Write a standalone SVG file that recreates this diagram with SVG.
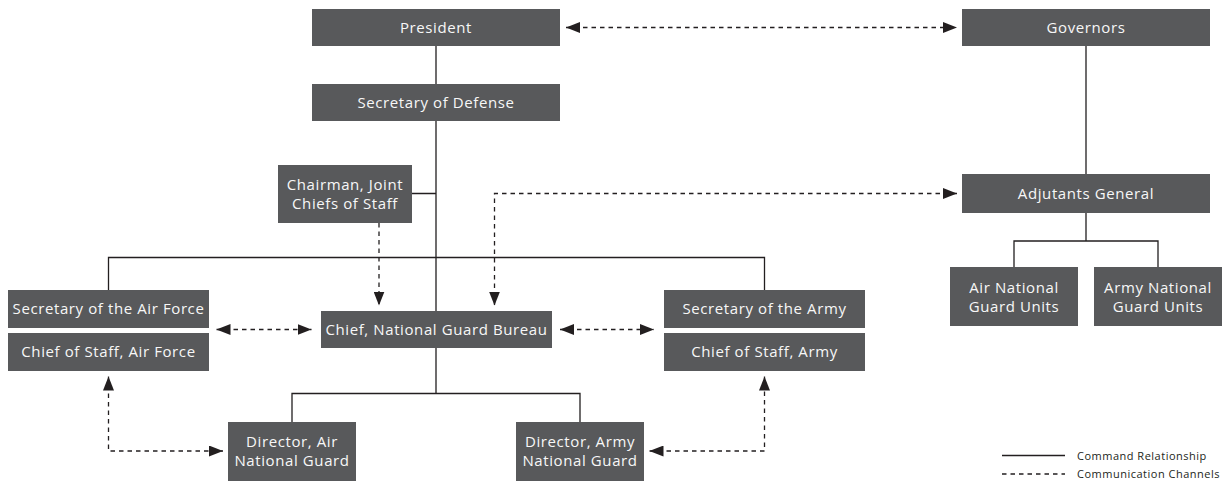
<svg xmlns="http://www.w3.org/2000/svg" width="1225" height="484" viewBox="0 0 1225 484">
<style>
.box{fill:#58595b}
.t{font-family:"Open Sans","Liberation Sans",sans-serif;font-size:15px;letter-spacing:0.6px;fill:#f7f7f7;text-anchor:middle}
.s{fill:none;stroke:#231f20;stroke-width:1.3}
.d{fill:none;stroke:#231f20;stroke-width:1.3;stroke-dasharray:4.5 4}
.lg{font-family:"Open Sans","Liberation Sans",sans-serif;font-size:11px;letter-spacing:0.5px;fill:#231f20}
</style>
<defs>
<marker id="ah" viewBox="0 0 14 11" refX="14" refY="5.5" markerWidth="14" markerHeight="11" markerUnits="userSpaceOnUse" orient="auto-start-reverse">
<path d="M0,0 L14,5.5 L0,11 z" fill="#231f20"/>
</marker>
</defs>
<rect width="1225" height="484" fill="#ffffff"/>
<g id="connectors">
<path class="s" d="M436,46 V311 M412,193.5 H436 M108.5,290 V257.5 H764.5 V290 M436,348 V393.5 M292,422 V393.5 H580 V422 M1086,46 V174 M1086,213 V241 M1014,267 V241 H1158 V267"/>
<path class="d" d="M566,27.5 H957" marker-start="url(#ah)" marker-end="url(#ah)"/>
<path class="d" d="M379,223 V305.5" marker-end="url(#ah)"/>
<path class="d" d="M957,193.5 H494.5 V305.5" marker-start="url(#ah)" marker-end="url(#ah)"/>
<path class="d" d="M216.5,329.5 H311.5" marker-start="url(#ah)" marker-end="url(#ah)"/>
<path class="d" d="M560,329.5 H654" marker-start="url(#ah)" marker-end="url(#ah)"/>
<path class="d" d="M108.5,376.5 V451 H223" marker-start="url(#ah)" marker-end="url(#ah)"/>
<path class="d" d="M649.5,451 H764.5 V376.5" marker-start="url(#ah)" marker-end="url(#ah)"/>
</g>
<g id="president"><rect class="box" x="312" y="9" width="248" height="37"/><text class="t" x="436" y="33">President</text></g>
<g id="governors"><rect class="box" x="962" y="9" width="248" height="37"/><text class="t" x="1086" y="33">Governors</text></g>
<g id="secdef"><rect class="box" x="312" y="84" width="248" height="37"/><text class="t" x="436" y="108">Secretary of Defense</text></g>
<g id="chairman"><rect class="box" x="278" y="165" width="134" height="58"/><text class="t" x="345" y="190">Chairman, Joint</text><text class="t" x="345" y="209">Chiefs of Staff</text></g>
<g id="adjutants"><rect class="box" x="962" y="174" width="248" height="39"/><text class="t" x="1086" y="198.5">Adjutants General</text></g>
<g id="airunits"><rect class="box" x="950" y="267" width="128" height="59"/><text class="t" x="1014" y="292.5">Air National</text><text class="t" x="1014" y="311.5">Guard Units</text></g>
<g id="armyunits"><rect class="box" x="1094" y="267" width="128" height="59"/><text class="t" x="1158" y="292.5">Army National</text><text class="t" x="1158" y="311.5">Guard Units</text></g>
<g id="secaf"><rect class="box" x="8" y="290" width="201" height="38"/><text class="t" x="108.5" y="313.5">Secretary of the Air Force</text></g>
<g id="cosaf"><rect class="box" x="8" y="333" width="201" height="38"/><text class="t" x="108.5" y="356.5">Chief of Staff, Air Force</text></g>
<g id="ngb"><rect class="box" x="321" y="311" width="231" height="37"/><text class="t" x="436.5" y="335">Chief, National Guard Bureau</text></g>
<g id="secarmy"><rect class="box" x="664" y="290" width="201" height="38"/><text class="t" x="764.5" y="313.5">Secretary of the Army</text></g>
<g id="cosarmy"><rect class="box" x="664" y="333" width="201" height="38"/><text class="t" x="764.5" y="356.5">Chief of Staff, Army</text></g>
<g id="dirair"><rect class="box" x="228" y="422" width="128" height="59"/><text class="t" x="292" y="446.5">Director, Air</text><text class="t" x="292" y="466">National Guard</text></g>
<g id="dirarmy"><rect class="box" x="516" y="422" width="128" height="59"/><text class="t" x="580" y="446.5">Director, Army</text><text class="t" x="580" y="466">National Guard</text></g>
<g id="legend">
<path class="s" d="M1002,455.5 H1065"/>
<path class="d" d="M1002,474 H1065"/>
<text class="lg" x="1077" y="459.5">Command Relationship</text>
<text class="lg" x="1077" y="478">Communication Channels</text>
</g>
</svg>
